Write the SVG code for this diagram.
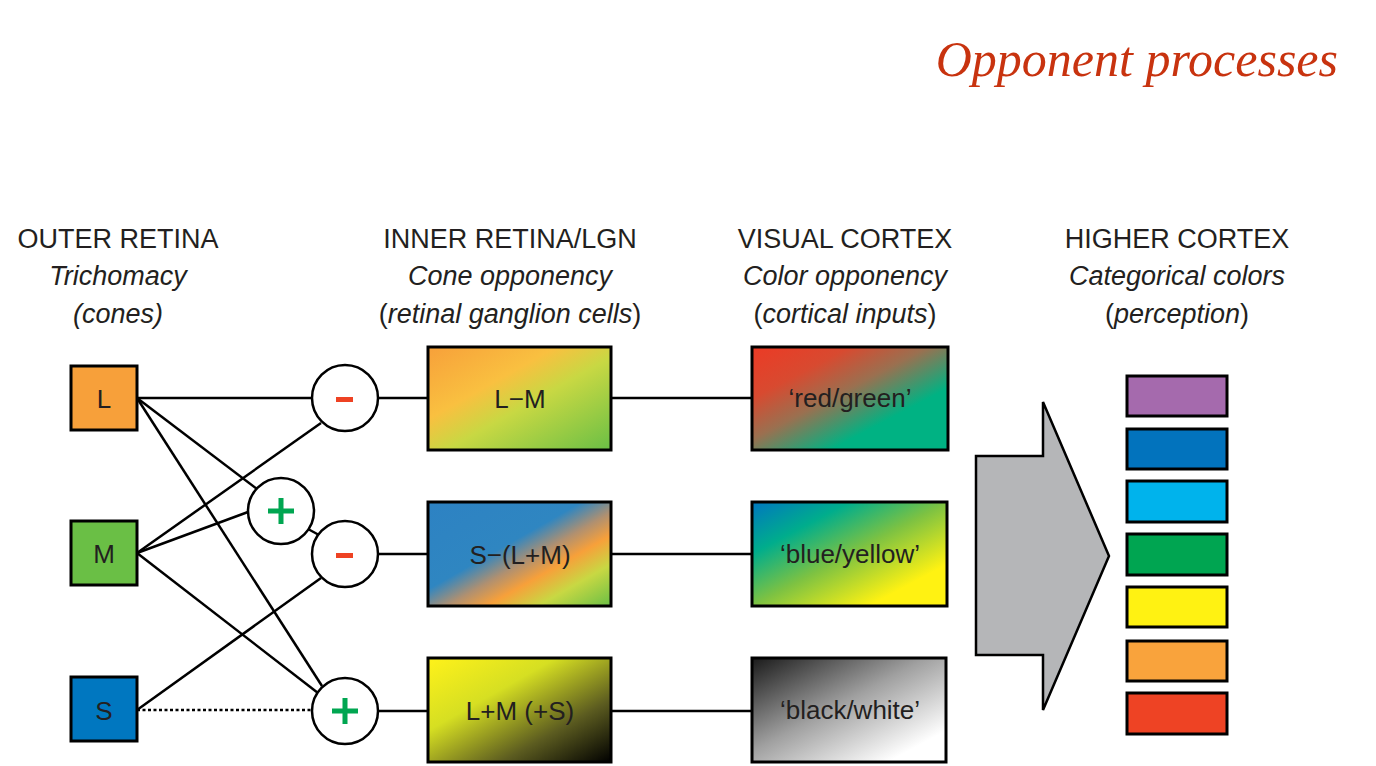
<svg xmlns="http://www.w3.org/2000/svg" width="1376" height="766" viewBox="0 0 1376 766">
<style>
text{font-family:"Liberation Sans",Arial,sans-serif;fill:#231f20}
.h{font-size:27px;text-anchor:middle}
.i{font-style:italic}
.lbl{font-size:26px;text-anchor:middle}
.ln{stroke:#000;stroke-width:2.5;fill:none}
.nd{stroke:#000;stroke-width:3}
.op{fill:#fff;stroke:#000;stroke-width:2.5}
</style>
<defs>
<linearGradient id="g1" x1="0" y1="0" x2="1" y2="1"><stop offset="0" stop-color="#f7a03a"/><stop offset="0.35" stop-color="#f9c040"/><stop offset="0.55" stop-color="#c8d843"/><stop offset="1" stop-color="#6abf45"/></linearGradient>
<linearGradient id="g2" x1="0" y1="0" x2="1" y2="1"><stop offset="0" stop-color="#2d82c3"/><stop offset="0.42" stop-color="#2f86c1"/><stop offset="0.55" stop-color="#b09070"/><stop offset="0.66" stop-color="#f7a03a"/><stop offset="0.8" stop-color="#c8d843"/><stop offset="1" stop-color="#6abf45"/></linearGradient>
<linearGradient id="g3" x1="0" y1="0" x2="1" y2="1"><stop offset="0" stop-color="#fff21a"/><stop offset="0.35" stop-color="#d6df22"/><stop offset="0.7" stop-color="#5c5c20"/><stop offset="1" stop-color="#000"/></linearGradient>
<linearGradient id="g4" x1="0" y1="0" x2="1" y2="1"><stop offset="0" stop-color="#ec3a25"/><stop offset="0.25" stop-color="#d84a30"/><stop offset="0.45" stop-color="#9a7050"/><stop offset="0.7" stop-color="#00b283"/><stop offset="1" stop-color="#00b283"/></linearGradient>
<linearGradient id="g5" x1="0" y1="0" x2="1" y2="1"><stop offset="0" stop-color="#0077c0"/><stop offset="0.25" stop-color="#00ad8c"/><stop offset="0.5" stop-color="#7dc242"/><stop offset="0.8" stop-color="#fff212"/><stop offset="1" stop-color="#fff212"/></linearGradient>
<linearGradient id="g6" x1="0" y1="0" x2="1" y2="1"><stop offset="0" stop-color="#1a1a1a"/><stop offset="0.45" stop-color="#a0a0a0"/><stop offset="0.85" stop-color="#fff"/><stop offset="1" stop-color="#fff"/></linearGradient>
</defs>
<rect width="1376" height="766" fill="#fff"/>
<text x="1338" y="76" style="font-family:'Liberation Serif',serif;font-style:italic;font-size:50px;fill:#c8330f" text-anchor="end">Opponent processes</text>

<g id="headers">
<text class="h" x="118" y="248">OUTER RETINA</text>
<text class="h i" x="118" y="285">Trichomacy</text>
<text class="h i" x="118" y="323">(cones)</text>
<text class="h" x="510" y="248">INNER RETINA/LGN</text>
<text class="h i" x="510" y="285">Cone opponency</text>
<text class="h" x="510" y="323">(<tspan class="i">retinal ganglion cells</tspan>)</text>
<text class="h" x="845" y="248">VISUAL CORTEX</text>
<text class="h i" x="845" y="285">Color opponency</text>
<text class="h" x="845" y="323">(<tspan class="i">cortical inputs</tspan>)</text>
<text class="h" x="1177" y="248">HIGHER CORTEX</text>
<text class="h i" x="1177" y="285">Categorical colors</text>
<text class="h" x="1177" y="323">(<tspan class="i">perception</tspan>)</text>
</g>

<g id="connectors">
<line class="ln" x1="137" y1="398" x2="312" y2="398"/>
<line class="ln" x1="137" y1="398" x2="257" y2="489"/>
<line class="ln" x1="137" y1="398" x2="322" y2="686"/>
<line class="ln" x1="137" y1="553" x2="321" y2="423"/>
<line class="ln" x1="137" y1="553" x2="248" y2="512"/>
<line class="ln" x1="137" y1="553" x2="318" y2="693"/>
<line class="ln" x1="308" y1="529" x2="319" y2="535"/>
<line class="ln" x1="137" y1="710" x2="321" y2="578"/>
<line class="ln" x1="137" y1="710" x2="312" y2="710" stroke-dasharray="3,2.5"/>
<line class="ln" x1="378" y1="398" x2="428" y2="398"/>
<line class="ln" x1="378" y1="554" x2="428" y2="554"/>
<line class="ln" x1="378" y1="711" x2="428" y2="711"/>
<line class="ln" x1="611" y1="398" x2="752" y2="398"/>
<line class="ln" x1="611" y1="554" x2="752" y2="554"/>
<line class="ln" x1="611" y1="711" x2="752" y2="711"/>
</g>

<g id="cone-L"><rect class="nd" x="71" y="366" width="66" height="64" fill="#f7a03a"/><text class="lbl" x="104" y="408">L</text></g>
<g id="cone-M"><rect class="nd" x="71" y="521" width="66" height="64" fill="#6abf45"/><text class="lbl" x="104" y="563">M</text></g>
<g id="cone-S"><rect class="nd" x="71" y="677" width="66" height="64" fill="#0077c0"/><text class="lbl" x="104" y="720">S</text></g>

<g id="op-minus-top"><ellipse class="op" cx="345" cy="398" rx="33" ry="33"/><rect x="336" y="397" width="17" height="5" fill="#ee4223"/></g>
<g id="op-plus-mid"><ellipse class="op" cx="281" cy="511" rx="33" ry="33"/><path d="M268 511h26M281 498v26" stroke="#00a651" stroke-width="5"/></g>
<g id="op-minus-mid"><ellipse class="op" cx="345" cy="554" rx="33" ry="33"/><rect x="336" y="553" width="17" height="5" fill="#ee4223"/></g>
<g id="op-plus-bot"><ellipse class="op" cx="345" cy="711" rx="33" ry="33"/><path d="M332 711h26M345 698v26" stroke="#00a651" stroke-width="5"/></g>

<g id="lm"><rect class="nd" x="428" y="347" width="183" height="103" fill="url(#g1)"/><text class="lbl" x="520" y="408">L−M</text></g>
<g id="slm"><rect class="nd" x="428" y="502" width="183" height="104" fill="url(#g2)"/><text class="lbl" x="520" y="564">S−(L+M)</text></g>
<g id="lms"><rect class="nd" x="428" y="658" width="183" height="104" fill="url(#g3)"/><text class="lbl" x="520" y="720">L+M (+S)</text></g>

<g id="rg"><rect class="nd" x="752" y="347" width="196" height="103" fill="url(#g4)"/><text class="lbl" x="850" y="407">‘red/green’</text></g>
<g id="by"><rect class="nd" x="752" y="502" width="195" height="104" fill="url(#g5)"/><text class="lbl" x="850" y="563">‘blue/yellow’</text></g>
<g id="bw"><rect class="nd" x="752" y="658" width="194" height="104" fill="url(#g6)"/><text class="lbl" x="850" y="719">‘black/white’</text></g>

<g id="arrow"><polygon points="976,456 1043,456 1043,402 1109,556 1043,710 1043,655 976,655" fill="#b5b6b8" stroke="#000" stroke-width="2.5"/></g>

<g id="categories" stroke="#000" stroke-width="3">
<rect x="1127" y="376" width="100" height="40" fill="#a56aad"/>
<rect x="1127" y="429" width="100" height="40" fill="#0273bd"/>
<rect x="1127" y="481" width="100" height="41" fill="#00b3ec"/>
<rect x="1127" y="534" width="100" height="41" fill="#00a551"/>
<rect x="1127" y="587" width="100" height="40" fill="#fff212"/>
<rect x="1127" y="641" width="100" height="40" fill="#f9a33c"/>
<rect x="1127" y="693" width="100" height="41" fill="#ee4324"/>
</g>
</svg>
